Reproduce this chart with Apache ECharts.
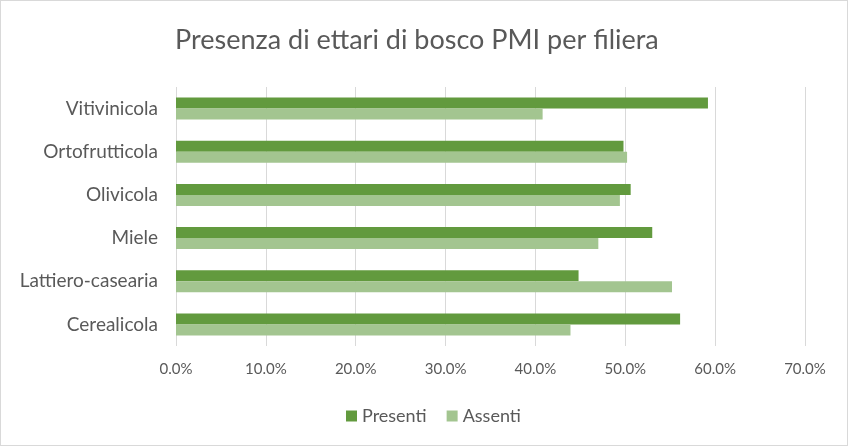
<!DOCTYPE html>
<html>
<head>
<meta charset="utf-8">
<title>Presenza di ettari di bosco PMI per filiera</title>
<script src="https://cdn.jsdelivr.net/npm/echarts@6/dist/echarts.min.js"></script>
<style>
  html, body { margin: 0; padding: 0; background: #fff; }
  #chart { width: 846px; height: 444px; border: 1px solid #d9d9d9; }
</style>
</head>
<body>
<div id="chart"></div>
<script>
// categorie dal basso verso l'alto
var filiere = ['Cerealicola', 'Lattiero-casearia', 'Miele', 'Olivicola', 'Ortofrutticola', 'Vitivinicola'];
var presenti = [56.1, 44.8, 53.0, 50.6, 49.8, 59.2];
var assenti = [43.9, 55.2, 47.0, 49.4, 50.2, 40.8];
var xTicks = [0, 10, 20, 30, 40, 50, 60, 70];

var myChart = echarts.init(document.getElementById('chart'));
var font = 'Lato, "Open Sans", sans-serif';

var option = {
  animation: false,
  title: {
    text: 'Presenza di ettari di bosco PMI per filiera',
    left: 169,
    top: 21,
    textStyle: { fontFamily: font, fontSize: 27, fontWeight: 'normal', color: '#595959' }
  },
  legend: {
    data: ['Presenti', 'Assenti'],
    bottom: 15,
    left: 340,
    itemWidth: 11,
    itemHeight: 11,
    itemGap: 20,
    icon: 'rect',
    textStyle: { fontFamily: font, fontSize: 18, color: '#595959' }
  },
  grid: { left: 175, right: 42, top: 86, bottom: 99, containLabel: false },
  xAxis: {
    type: 'value',
    min: xTicks[0],
    max: xTicks[xTicks.length - 1],
    interval: 10,
    axisLine: { show: false },
    axisTick: { show: false },
    splitLine: { lineStyle: { color: '#d9d9d9', width: 1 } },
    axisLabel: {
      margin: 16,
      fontFamily: font, fontSize: 15, color: '#595959',
      formatter: function (v) { return v.toFixed(1) + '%'; }
    }
  },
  yAxis: {
    type: 'category',
    data: filiere,
    axisLine: { show: false },
    axisTick: { show: false },
    axisLabel: { margin: 18, fontFamily: font, fontSize: 19, color: '#595959' }
  },
  series: [
    {
      name: 'Presenti',
      type: 'bar',
      data: presenti,
      barWidth: 11,
      barGap: '0%',
      itemStyle: { color: '#629a3e' }
    },
    {
      name: 'Assenti',
      type: 'bar',
      data: assenti,
      barWidth: 11,
      barGap: '0%',
      itemStyle: { color: '#a3c590' }
    }
  ]
};

myChart.setOption(option);
</script>
</body>
</html>
